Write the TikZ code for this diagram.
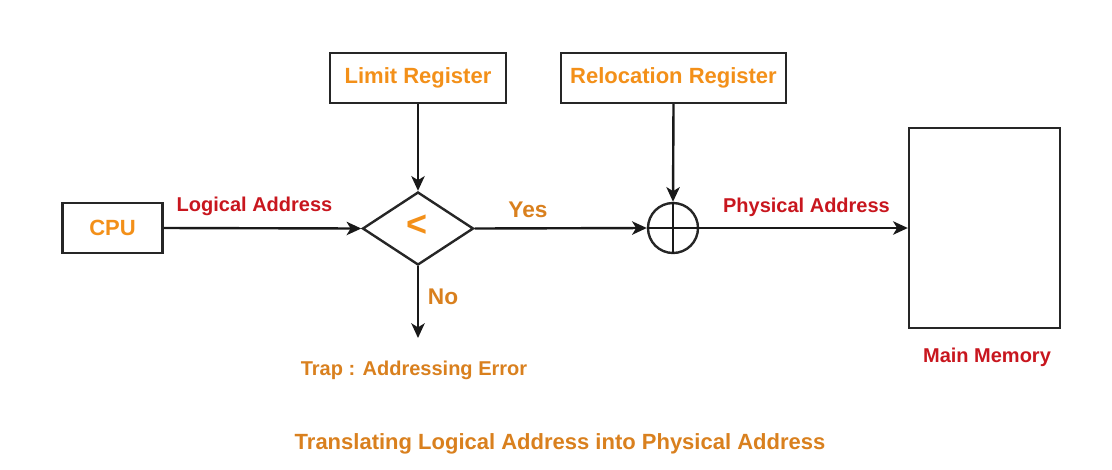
\documentclass[tikz,border=0pt]{standalone}
\usepackage{fontspec}
\setmainfont{Liberation Sans}
\usetikzlibrary{arrows.meta,shapes.geometric}
\definecolor{orangeA}{HTML}{F39019}
\definecolor{orangeB}{HTML}{D9801E}
\definecolor{redA}{HTML}{C8161E}
\tikzset{
  blk/.style={draw=black!85, line width=1.8pt, fill=white, inner sep=0pt},
  conn/.style={draw=black!90, line width=1.8pt, -{Stealth[length=11pt,width=10pt,inset=3pt]}},
  boxlabel/.style={text=orangeA, font=\bfseries\fontsize{16.5}{18}\selectfont},
  edgelabel/.style={text=redA, font=\bfseries\fontsize{15}{17}\selectfont, anchor=base},
  yn/.style={text=orangeB, font=\bfseries\fontsize{17}{19}\selectfont, anchor=base},
}
\begin{document}
\begin{tikzpicture}[x=0.75pt,y=-0.75pt]
\useasboundingbox (0,0) rectangle (1112,469);
% boxes
\node[blk, minimum width=100*0.75pt, minimum height=50*0.75pt] (cpu) at (112.5,228) {};
\node[boxlabel] at (cpu.center) {CPU};
\node[blk, minimum width=176*0.75pt, minimum height=50*0.75pt] (limit) at (418,78) {};
\node[boxlabel] at (limit.center) {Limit Register};
\node[blk, minimum width=225*0.75pt, minimum height=50*0.75pt] (reloc) at (673.5,78) {};
\node[boxlabel] at (reloc.center) {Relocation Register};
\node[blk, diamond, minimum width=111*0.75pt, minimum height=73*0.75pt, aspect=1.52] (cmp) at (418,228.5) {};
\node[text=orangeA, font=\bfseries\fontsize{27}{29}\selectfont] at (417,226) {<};
\node[blk, circle, minimum size=50*0.75pt] (add) at (673,228) {};
\draw[line width=1.8pt, black!90] (add.north) -- (add.south) (add.west) -- (add.east);
\node[blk, minimum width=151*0.75pt, minimum height=200*0.75pt] (mem) at (984.5,228) {};
\coordinate (trap) at (418,338);
% connectors
\draw[conn] (cpu.east) -- (cmp.west);
\draw[conn] (limit.south) -- (cmp.north);
\draw[conn] (cmp.east) -- (add.west);
\draw[conn] (reloc.south) -- (add.north);
\draw[conn] (add.east) -- (mem.west);
\draw[conn] (cmp.south) -- (trap);
% labels
\node[edgelabel] at (254.5,211.5) {Logical Address};
\node[edgelabel] at (806.5,212) {Physical Address};
\node[yn] at (528,217) {Yes};
\node[yn] at (443,304) {No};
\node[text=orangeB, font=\bfseries\fontsize{15}{17}\selectfont, anchor=base] at (414,375) {Trap : Addressing Error};
\node[edgelabel] at (987,362) {Main Memory};
\node[text=orangeB, font=\bfseries\fontsize{16.5}{18}\selectfont, anchor=base] at (560,449) {Translating Logical Address into Physical Address};
\end{tikzpicture}
\end{document}
